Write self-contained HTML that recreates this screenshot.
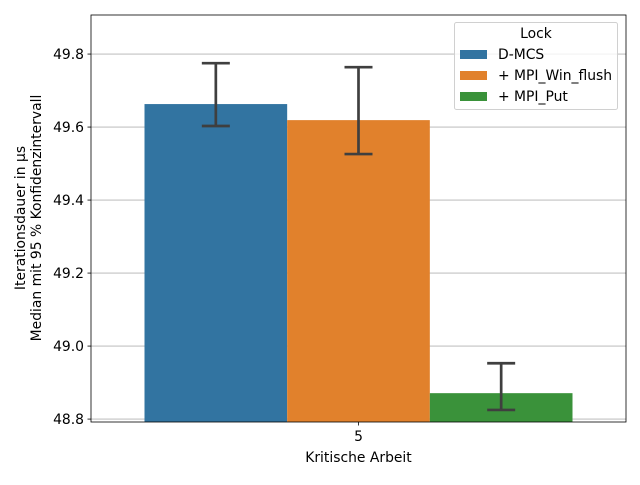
<!DOCTYPE html>
<html><head><meta charset="utf-8"><style>
body{margin:0;background:#fff}
svg text{font-family:"DejaVu Sans","Liberation Sans",sans-serif;font-size:13.9px;fill:#000}
</style></head><body>
<svg id="chart" width="640" height="480">
<rect width="640" height="480" fill="#fff"/>
<g id="grid"></g><g id="bars"></g><g id="errs"></g><g id="axes"></g><g id="legend"></g>
</svg>
<script>
const categories = ["5"];
const seriesNames = ["D-MCS","+ MPI_Win_flush","+ MPI_Put"];
const seriesValues = [49.663, 49.619, 48.871];
const errLow = [49.603, 49.526, 48.825];
const errHigh = [49.775, 49.764, 48.953];
const yTicks = [48.8, 49.0, 49.2, 49.4, 49.6, 49.8];
const colors = ["#3274a1","#e1812c","#3a923a"];
const NS="http://www.w3.org/2000/svg";
const L=91,R=626,T=15,B=422,yMin=48.792,yMax=49.907;
const y=v=>B-(v-yMin)/(yMax-yMin)*(B-T);
const groupW=(R-L)/categories.length, barW=groupW*0.8/seriesNames.length;
function mk(tag,attrs,parent,text){const e=document.createElementNS(NS,tag);for(const k in attrs)e.setAttribute(k,attrs[k]);if(text!==undefined)e.textContent=text;document.getElementById(parent).appendChild(e);return e;}
yTicks.forEach(t=>{
  const l=mk('line',{x1:L,x2:R,y1:y(t),y2:y(t),stroke:'#b0b0b0','stroke-width':0.8},'grid');
  
  
  const tk=mk('line',{x1:L-3.5,x2:L,y1:y(t),y2:y(t),stroke:'#000','stroke-width':0.8},'axes');
  
  
  const tx=mk('text',{x:L-7,y:y(t)+5,'text-anchor':'end'},'axes',t.toFixed(1));
  
  
});
categories.forEach((c,ci)=>{
  const cx=L+groupW*(ci+0.5);
  seriesValues.forEach((v,si)=>{
    const x0=cx-groupW*0.4+si*barW;
    const r=mk('rect',{x:x0,y:y(v),width:barW,height:B-y(v),fill:colors[si]},'bars');
    
    
    const mx=x0+barW/2;
    const g=mk('g',{stroke:'#3f3f3f','stroke-width':2.7},'errs');
    
    
    [[mx,mx,y(errLow[si]),y(errHigh[si])],[mx-14,mx+14,y(errLow[si]),y(errLow[si])],[mx-14,mx+14,y(errHigh[si]),y(errHigh[si])]].forEach(p=>{
      const ln=document.createElementNS(NS,'line');ln.setAttribute('x1',p[0]);ln.setAttribute('x2',p[1]);ln.setAttribute('y1',p[2]);ln.setAttribute('y2',p[3]);g.appendChild(ln);
    });
  });
  const tk=mk('line',{x1:cx,x2:cx,y1:B,y2:B+3.5,stroke:'#000','stroke-width':0.8},'axes');
  
  
  const tx=mk('text',{x:cx,y:B+19,'text-anchor':'middle'},'axes',c);
  
  
});
const fr=mk('rect',{x:L,y:T,width:R-L,height:B-T,fill:'none',stroke:'#000','stroke-width':0.8},'axes');


const xt=mk('text',{x:(L+R)/2,y:462,'text-anchor':'middle'},'axes','Kritische Arbeit');


const yt1=mk('text',{x:0,y:0,'text-anchor':'middle',transform:'translate(25,218) rotate(-90)'},'axes','Iterationsdauer in µs');


const yt2=mk('text',{x:0,y:0,'text-anchor':'middle',transform:'translate(41,218) rotate(-90)'},'axes','Median mit 95 % Konfidenzintervall');


const lb=mk('rect',{x:454.5,y:22.5,width:163,height:87,rx:2,fill:'#fff','fill-opacity':0.8,stroke:'#d0d0d0'},'legend');


const lt=mk('text',{x:536,y:38,'text-anchor':'middle'},'legend','Lock');


seriesNames.forEach((n,i)=>{
  const yy=54+i*21;
  const sw=mk('rect',{x:460,y:yy-4,width:27,height:9,fill:colors[i]},'legend');
  
  
  const t=mk('text',{x:498,y:yy+5},'legend',n);
  
  
});
</script>
</body></html>
